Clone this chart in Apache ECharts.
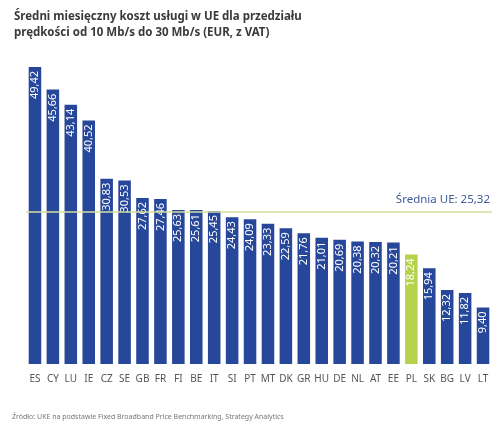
<!DOCTYPE html>
<html>
<head>
<meta charset="utf-8">
<script src="https://cdn.jsdelivr.net/npm/echarts@6/dist/echarts.min.js"></script>
<style>
  html, body { margin: 0; padding: 0; background: #fff; }
  #chart { width: 500px; height: 427px; }
</style>
</head>
<body>
<div id="chart"></div>
<script>
var countries = ['ES', 'CY', 'LU', 'IE', 'CZ', 'SE', 'GB', 'FR', 'FI', 'BE', 'IT', 'SI', 'PT',
  'MT', 'DK', 'GR', 'HU', 'DE', 'NL', 'AT', 'EE', 'PL', 'SK', 'BG', 'LV', 'LT'];
var costs = [49.42, 45.66, 43.14, 40.52, 30.83, 30.53, 27.62, 27.46, 25.63, 25.61, 25.45, 24.43, 24.09,
  23.33, 22.59, 21.76, 21.01, 20.69, 20.38, 20.32, 20.21, 18.24, 15.94, 12.32, 11.82, 9.40];
var euAverage = 25.32;
var highlight = 'PL';

var chartDom = document.getElementById('chart');
var myChart = echarts.init(chartDom);
var option;

function pl(v) {
  return v.toFixed(2).replace('.', ',');
}

option = {
  textStyle: { fontFamily: 'Noto Sans' },
  title: [
    {
      text: 'Średni miesięczny koszt usługi w UE dla przedziału\nprędkości od 10 Mb/s do 30 Mb/s (EUR, z VAT)',
      left: 9,
      top: 4,
      textStyle: { fontSize: 11.5, fontWeight: 'bold', color: '#3a3a3a', lineHeight: 16, fontFamily: 'Noto Sans' }
    },
    {
      text: 'Źródło: UKE na podstawie Fixed Broadband Price Benchmarking, Strategy Analytics',
      left: 7,
      top: 408,
      textStyle: { fontSize: 7, fontWeight: 'normal', color: '#777', fontFamily: 'Noto Sans' }
    }
  ],
  grid: { left: 26, right: 8, top: 63.5, bottom: 63 },
  xAxis: {
    type: 'category',
    data: countries,
    axisLine: { show: false },
    axisTick: { show: false },
    axisLabel: { color: '#555', fontSize: 10, margin: 10, interval: 0 }
  },
  yAxis: {
    type: 'value',
    min: 0,
    max: 50,
    show: false,
    splitLine: { show: false }
  },
  series: [
    {
      type: 'bar',
      barCategoryGap: '30%',
      data: costs.map(function (v, i) {
        return {
          value: v,
          itemStyle: { color: countries[i] === highlight ? '#b6d24a' : '#27479a' }
        };
      }),
      label: {
        show: true,
        position: 'insideTop',
        rotate: 90,
        align: 'right',
        verticalAlign: 'middle',
        distance: 4,
        color: '#fff',
        fontSize: 11,
        formatter: function (p) { return pl(p.value); }
      },
      markLine: {
        silent: true,
        symbol: 'none',
        lineStyle: { color: '#d5de9e', type: 'solid', width: 1.5 },
        label: {
          position: 'insideEndTop',
          color: '#3d5a99',
          fontSize: 11.5,
          distance: [2, 6],
          formatter: 'Średnia UE: ' + pl(euAverage)
        },
        data: [{ yAxis: euAverage }]
      }
    }
  ]
};

option && myChart.setOption(option);
</script>
</body>
</html>
